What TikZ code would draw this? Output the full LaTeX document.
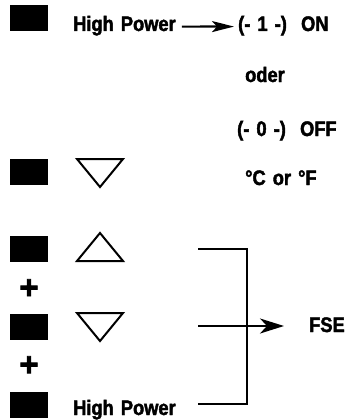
\documentclass[tikz,border=0pt]{standalone}
\usepackage{fontspec}
\setmainfont{Liberation Sans}[FakeStretch=0.87,FakeBold=2,WordSpace=1.4]
\newfontfamily\plusfont{Liberation Sans}[FakeBold=2.5]
\usetikzlibrary{arrows.meta}
\begin{document}
\begin{tikzpicture}[x=1pt,y=-1pt,
  key/.style={fill=black,draw=none,minimum width=38pt,minimum height=26pt,inner sep=0pt,outer sep=0pt},
  lbl/.style={font=\fontsize{21}{23}\selectfont\bfseries,inner sep=0pt,anchor=base west},
  plus/.style={font=\plusfont\fontsize{33}{35}\selectfont\bfseries,inner sep=0pt},
  tri/.style={draw=black,line width=2pt,line join=miter},
  conn/.style={draw=black,line width=2.2pt},
  arr/.style={conn,-{Stealth[length=22pt,width=11pt,inset=5pt]}},
  arrbig/.style={conn,-{Stealth[length=24pt,width=15pt,inset=7pt]}}]
\useasboundingbox (0,0) rectangle (354,420);
% keys
\node[key] (k1) at (29,18) {};
\node[key] (k2) at (29,171.5) {};
\node[key] (k3) at (29,249) {};
\node[key] (k4) at (29,326.5) {};
\node[key] (k5) at (29,405) {};
% plus signs
\node[plus] (p1) at (29,289) {+};
\node[plus] (p2) at (29,366) {+};
% triangles
\draw[tri] (77,159) -- (123,159) -- (100,187) -- cycle;
\draw[tri] (77,261) -- (123,261) -- (100,233) -- cycle;
\draw[tri] (77,313) -- (123,313) -- (100,341) -- cycle;
% texts
\node[lbl] (hp1) at (73,31) {High Power};
\node[lbl] (on) at (238,31) {(- 1 -)\ \ ON};
\node[lbl] (oder) at (245,82) {oder};
\node[lbl] (off) at (237,136) {(- 0 -)\ \ OFF};
\node[lbl] (cf) at (245,185) {°C or °F};
\node[lbl] (fse) at (309,332) {FSE};
\node[lbl] (hp2) at (73,415) {High Power};
% top arrow
\draw[arr] ([xshift=6pt,yshift=-1pt]hp1.east) -- ([xshift=-4pt,yshift=-1pt]on.west);
% bracket
\coordinate (b1) at (198,249);
\coordinate (b2) at (247,249);
\coordinate (b3) at (247,404);
\coordinate (b4) at (198,404);
\coordinate (m1) at (198,326);
\coordinate (m2) at (284,326);
\draw[conn,line join=miter] (b1) -- (b2) -- (b3) -- (b4);
\draw[arrbig] (m1) -- (m2);
\end{tikzpicture}
\end{document}
